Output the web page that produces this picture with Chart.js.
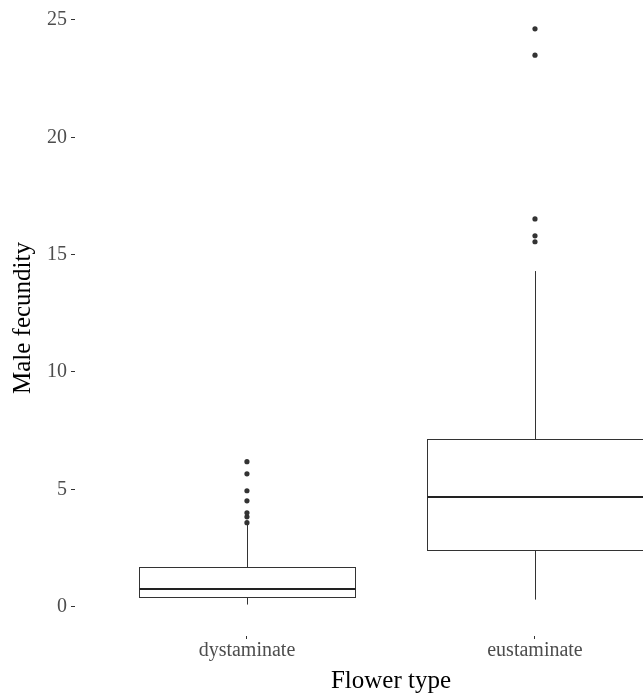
<!DOCTYPE html>
<html>
<head>
<meta charset="utf-8">
<script src="https://cdn.jsdelivr.net/npm/chart.js@4"></script>
<style>body { margin: 0; background: #fff; }</style>
</head>
<body>
<canvas id="chart" width="643" height="694"></canvas>
<script>
// Box plot values
var categories = ['dystaminate', 'eustaminate'];
var q1 = [0.43, 2.42];
var medians = [0.77, 4.68];
var q3 = [1.70, 7.16];
var whiskerLow = [0.09, 0.30];
var whiskerHigh = [3.55, 14.3];
var outliersDys = [3.58, 3.83, 4.00, 4.51, 4.94, 5.66, 6.18];
var outliersEu = [15.55, 15.8, 16.52, 23.5, 24.62];
var yTicks = [0, 5, 10, 15, 20, 25];

var serif = '"Liberation Serif", "DejaVu Serif", serif';

// draws boxes, whiskers and medians from the scales
var boxPlugin = {
    id: 'boxes',
    beforeDatasetsDraw: function(chart) {
        var ctx = chart.ctx;
        var xs = chart.scales.x, ys = chart.scales.y;
        var half = 0.375;
        ctx.save();
        categories.forEach(function(cat, i) {
            var pos = i + 1;
            var cx = Math.round(xs.getPixelForValue(pos)) + 0.5;
            var l = Math.round(xs.getPixelForValue(pos - half)) + 0.5;
            var r = Math.round(xs.getPixelForValue(pos + half)) + 0.5;
            var yq1 = Math.round(ys.getPixelForValue(q1[i])) + 0.5;
            var yq3 = Math.round(ys.getPixelForValue(q3[i])) + 0.5;
            var ymed = Math.round(ys.getPixelForValue(medians[i]));
            var ylo = ys.getPixelForValue(whiskerLow[i]);
            var yhi = ys.getPixelForValue(whiskerHigh[i]);

            ctx.strokeStyle = '#333333';
            ctx.lineWidth = 1;
            ctx.beginPath();
            ctx.moveTo(cx, yq3); ctx.lineTo(cx, yhi);
            ctx.moveTo(cx, yq1); ctx.lineTo(cx, ylo);
            ctx.stroke();

            ctx.fillStyle = '#ffffff';
            ctx.fillRect(l, yq3, r - l, yq1 - yq3);
            ctx.strokeRect(l, yq3, r - l, yq1 - yq3);

            ctx.lineWidth = 2;
            ctx.strokeStyle = '#222222';
            ctx.beginPath();
            ctx.moveTo(l, ymed); ctx.lineTo(r, ymed);
            ctx.stroke();
        });
        ctx.restore();
    },
    afterDraw: function(chart) {
        var ctx = chart.ctx;
        var xs = chart.scales.x, ys = chart.scales.y;
        ctx.save();
        ctx.fillStyle = '#000000';
        ctx.font = '25px ' + serif;
        ctx.textAlign = 'center';
        ctx.textBaseline = 'alphabetic';
        ctx.fillText('Flower type', xs.getPixelForValue(1.5), 688);
        ctx.translate(30, (ys.top + ys.bottom) / 2);
        ctx.rotate(-Math.PI / 2);
        ctx.fillText('Male fecundity', 0, 0);
        ctx.restore();
    }
};

var ctx = document.getElementById('chart').getContext('2d');
var chart = new Chart(ctx, {
    type: 'scatter',
    data: {
        datasets: [{
            label: 'outliers',
            data: outliersDys.map(function(v) { return { x: 1, y: v }; })
                .concat(outliersEu.map(function(v) { return { x: 2, y: v }; })),
            backgroundColor: '#333333',
            borderWidth: 0,
            pointRadius: 2.6,
            pointHoverRadius: 2.6
        }]
    },
    options: {
        responsive: false,
        animation: false,
        layout: { padding: 0, autoPadding: false },
        plugins: {
            legend: { display: false },
            tooltip: { enabled: false }
        },
        scales: {
            x: {
                type: 'linear',
                min: 0.403,
                max: 2.375,
                afterBuildTicks: function(scale) {
                    scale.ticks = categories.map(function(c, i) { return { value: i + 1 }; });
                },
                afterFit: function(scale) {
                    scale.height = 58;
                    scale.paddingLeft = 0;
                    scale.paddingRight = 0;
                },
                ticks: {
                    callback: function(v) { return categories[v - 1]; },
                    color: '#4d4d4d',
                    font: { family: serif, size: 20 },
                    padding: 0,
                    maxRotation: 0
                },
                grid: { drawOnChartArea: false, drawTicks: true, tickLength: 3, color: '#333333' },
                border: { display: false }
            },
            y: {
                min: -1.25,
                max: 25.85,
                afterBuildTicks: function(scale) {
                    scale.ticks = yTicks.map(function(v) { return { value: v }; });
                },
                afterFit: function(scale) {
                    scale.width = 75;
                    scale.paddingTop = 0;
                    scale.paddingBottom = 0;
                },
                ticks: {
                    color: '#4d4d4d',
                    font: { family: serif, size: 20 },
                    padding: 4
                },
                grid: { drawOnChartArea: false, drawTicks: true, tickLength: 4, color: '#333333' },
                border: { display: false }
            }
        }
    },
    plugins: [boxPlugin]
});
</script>
</body>
</html>
